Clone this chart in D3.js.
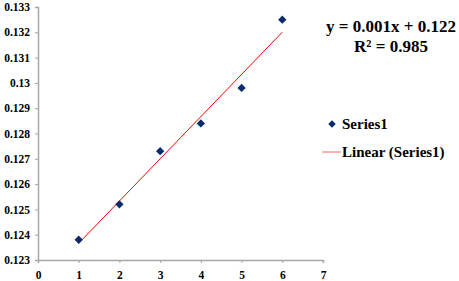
<!DOCTYPE html>
<html>
<head>
<meta charset="utf-8">
<script src="https://cdn.jsdelivr.net/npm/d3@7"></script>
<style>
  html, body { margin: 0; padding: 0; background: #fff; }
  svg { display: block; font-family: "Liberation Serif", "Times New Roman", serif; font-weight: bold; }
</style>
</head>
<body>
<div id="chart"></div>
<script>
// Series1 observations
const xValues = [1, 2, 3, 4, 5, 6];
const yValues = [0.1238, 0.1252, 0.1273, 0.1284, 0.1298, 0.1325];
const xTicks = [0, 1, 2, 3, 4, 5, 6, 7];
const yTicks = [0.123, 0.124, 0.125, 0.126, 0.127, 0.128, 0.129, 0.13, 0.131, 0.132, 0.133];
const equationLines = ['y = 0.001x + 0.122', 'R² = 0.985'];
const legendLabels = ['Series1', 'Linear (Series1)'];

const width = 459, height = 281;
const margin = { top: 7, right: 136, bottom: 21, left: 38 };
const innerW = width - margin.left - margin.right;
const innerH = height - margin.top - margin.bottom;

const svg = d3.select('#chart').append('svg')
  .attr('width', width).attr('height', height);
const g = svg.append('g').attr('transform', `translate(${margin.left},${margin.top})`);

const x = d3.scaleLinear().domain([0, 7]).range([0, innerW]);
const y = d3.scaleLinear().domain([0.123, 0.133]).range([innerH, 0]);

// axes
const yAxis = g.append('g')
  .call(d3.axisLeft(y).tickValues(yTicks).tickSize(3).tickPadding(5).tickFormat(d => String(+d.toFixed(3))));
const xAxis = g.append('g').attr('transform', `translate(0,${innerH})`)
  .call(d3.axisBottom(x).tickValues(xTicks).tickSize(3).tickPadding(6).tickFormat(d3.format('d')));
[yAxis, xAxis].forEach(a => {
  a.select('.domain').attr('stroke', '#a6a6a6').attr('stroke-width', 1.5);
  a.selectAll('.tick line').attr('stroke', '#a6a6a6');
  a.selectAll('.tick text').attr('fill', '#000').style('font-size', '11.5px')
    .style('font-family', '"Liberation Serif", serif').style('font-weight', 'bold');
});
xAxis.selectAll('.tick text').attr('dy', '0.9em');

// linear trend line (least squares fit on the data)
const xm = d3.mean(xValues), ym = d3.mean(yValues);
const slope = d3.sum(xValues, (v, i) => (v - xm) * (yValues[i] - ym)) / d3.sum(xValues, v => (v - xm) ** 2);
const icpt = ym - slope * xm;
const xr = d3.extent(xValues);
g.append('path')
  .datum(xr.map(v => [v, icpt + slope * v]))
  .attr('fill', 'none').attr('stroke', '#ff0000').attr('stroke-width', 1)
  .attr('d', d3.line().x(d => x(d[0])).y(d => y(d[1])));

// points
const diamond = d3.symbol().type(d3.symbolDiamond2 || d3.symbolDiamond).size(44);
g.selectAll('path.pt').data(xValues).join('path')
  .attr('class', 'pt')
  .attr('transform', (d, i) => `translate(${x(d)},${y(yValues[i])})`)
  .attr('d', diamond).attr('fill', '#0d2a6b');

// equation
svg.append('g').selectAll('text').data(equationLines).join('text')
  .attr('x', 391).attr('y', (d, i) => 32 + i * 20)
  .attr('text-anchor', 'middle').style('font-size', '17px').text(d => d);

// legend
const leg = svg.append('g');
leg.append('path').attr('transform', 'translate(332,124)').attr('d', d3.symbol().type(d3.symbolDiamond2 || d3.symbolDiamond).size(36)).attr('fill', '#0d2a6b');
leg.append('line').attr('x1', 322).attr('x2', 341).attr('y1', 152).attr('y2', 152)
  .attr('stroke', '#ff6060').attr('stroke-width', 1);
leg.selectAll('text').data(legendLabels).join('text')
  .attr('x', 342).attr('y', (d, i) => 129 + i * 28)
  .style('font-size', '15px').text(d => d);
</script>
</body>
</html>
